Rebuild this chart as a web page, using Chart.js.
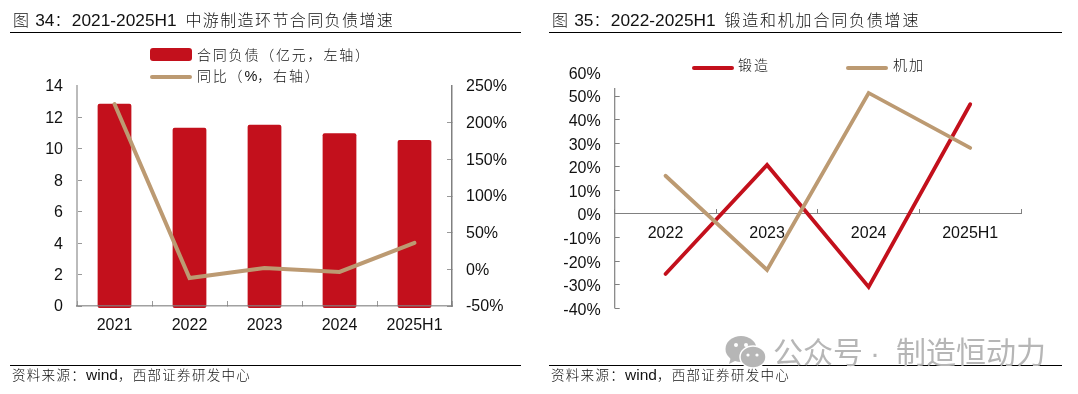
<!DOCTYPE html>
<html><head><meta charset="utf-8">
<script src="https://cdn.jsdelivr.net/npm/chart.js@4"></script>
<style>
html,body{margin:0;padding:0;background:#fff;width:1078px;height:394px;overflow:hidden}
body{position:relative;font-family:"Liberation Sans","Noto Sans CJK SC",sans-serif;color:#111}
canvas{position:absolute;top:0}
.t,.f,.l,.wm{position:absolute;white-space:nowrap}
.t{font-size:17.3px;line-height:20px;top:10px}
.t i,.f i,.l i{font-style:normal;font-weight:300}
.t i{font-size:16px;letter-spacing:1.4px}
.f{font-size:15.5px;line-height:16px;top:367px}
.f i{font-size:13.5px;letter-spacing:1.3px}
.l{font-size:14.5px;line-height:18px}
.l i{font-size:14px;letter-spacing:1.8px}
.r{position:absolute;height:1.5px;background:#000}
.s{position:absolute;border-radius:3px}
.wm{top:333px;font-size:30px;line-height:40px;color:#b6b6b6}
</style></head><body>
<canvas id="c1"></canvas><canvas id="c2" style="left:540px"></canvas>
<div class="t" style="left:13px"><i>图</i> 34<i>：</i>2021-2025H1 <i style="margin-left:4px">中游制造环节合同负债增速</i></div>
<div class="t" style="left:552px"><i>图</i> 35<i>：</i>2022-2025H1 <i style="margin-left:4px;letter-spacing:1.8px">锻造和机加合同负债增速</i></div>
<div class="r" style="left:10px;width:511px;top:31.5px"></div>
<div class="r" style="left:549px;width:513px;top:31.5px"></div>
<div class="r" style="left:10px;width:511px;top:364.5px"></div>
<div class="r" style="left:549px;width:513px;top:364.5px"></div>
<div class="f" style="left:12px"><i>资料来源：</i>wind<i>，西部证券研发中心</i></div>
<div class="f" style="left:551px"><i>资料来源：</i>wind<i>，西部证券研发中心</i></div>
<div class="s" style="left:150px;width:42px;top:48px;height:13px;background:#C3101C"></div>
<div class="l" style="left:197px;top:46px"><i>合同负债（亿元，左轴）</i></div>
<div class="s" style="left:150px;width:42px;top:75px;height:4px;background:#BC9A72"></div>
<div class="l" style="left:197px;top:67px"><i>同比（</i>%<i>，右轴）</i></div>
<div class="s" style="left:692px;width:42px;top:65.5px;height:4px;background:#C3101C"></div>
<div class="l" style="left:738px;top:56px"><i style="letter-spacing:2px">锻造</i></div>
<div class="s" style="left:846px;width:42px;top:65.5px;height:4px;background:#BC9A72"></div>
<div class="l" style="left:893px;top:56px"><i style="letter-spacing:2px">机加</i></div>
<svg style="position:absolute;left:724px;top:335px" width="44" height="36" viewBox="0 0 44 36">
<ellipse cx="17" cy="14" rx="15.5" ry="13" fill="#b6b6b6"/><path d="M7 22l-2 7 8-4z" fill="#b6b6b6"/>
<ellipse cx="29" cy="22" rx="13" ry="11" fill="#b6b6b6" stroke="#fff" stroke-width="1.5"/>
<circle cx="12" cy="10" r="2" fill="#fff"/><circle cx="22" cy="10" r="2" fill="#fff"/>
<circle cx="24" cy="20" r="1.6" fill="#fff"/><circle cx="33" cy="20" r="1.6" fill="#fff"/></svg>
<div class="wm" style="left:773px">公众号</div>
<div class="wm" style="left:870px">·</div>
<div class="wm" style="left:896px">制造恒动力</div>
<script>
const leftCategories = ["2021","2022","2023","2024","2025H1"];
const contractLiabilities = [12.87,11.34,11.53,11.0,10.57];
const yoyPercent = [225.5,-11.8,1.8,-3.6,36];
const leftTicks = [0,2,4,6,8,10,12,14];
const leftPctTicks = [-50,0,50,100,150,200,250];
const rightCategories = ["2022","2023","2024","2025H1"];
const forging = [-25.4,20.8,-30.9,46.5];
const machining = [16.2,-23.7,51.3,28];
const rightTicks = [-40,-30,-20,-10,0,10,20,30,40,50,60];

const RED="#C3101C", TAN="#BC9A72", FONT='"Liberation Sans","Noto Sans CJK SC",sans-serif';
Chart.defaults.font.family=FONT; Chart.defaults.font.size=16; Chart.defaults.color="#111";
Chart.defaults.animation=false; Chart.defaults.responsive=false;
const pct=v=>v+"%";
function setSize(id,w,h){const c=document.getElementById(id);c.width=w;c.height=h;c.style.width=w+"px";c.style.height=h+"px";return c;}
const fixW=w=>s=>{s.width=w;};
const fixH=h=>s=>{s.height=h;};

new Chart(setSize("c1",540,394),{
 data:{labels:leftCategories,datasets:[
  {type:"line",label:"同比（%，右轴）",data:yoyPercent,yAxisID:"y1",borderColor:TAN,borderWidth:4,pointRadius:0,tension:0,borderCapStyle:"round",borderJoinStyle:"miter",order:1,clip:false},
  {type:"bar",label:"合同负债（亿元，左轴）",data:contractLiabilities,yAxisID:"y",backgroundColor:RED,barPercentage:.45,categoryPercentage:1,borderRadius:2,borderSkipped:false,order:2,base:-0.12,clip:false}
 ]},
 options:{layout:{padding:{top:86,bottom:58,left:0,right:0}},plugins:{legend:{display:false},tooltip:{enabled:false}},
  scales:{
   x:{grid:{offset:true,drawOnChartArea:false,tickLength:-5,color:"#999",z:1},border:{color:"rgba(130,130,130,.75)",width:1.5,z:1},ticks:{padding:15,maxRotation:0},afterFit:fixH(30)},
   y:{position:"left",min:0,max:14,afterBuildTicks:s=>{s.ticks=leftTicks.map(value=>({value}));},grid:{drawOnChartArea:false,tickLength:-5,color:c=>c.tick&&c.tick.value===14?"rgba(0,0,0,0)":"#999"},border:{color:"#bbb",width:2},ticks:{padding:19,labelOffset:1},afterFit:fixW(77)},
   y1:{position:"right",min:-50,max:250,afterBuildTicks:s=>{s.ticks=leftPctTicks.map(value=>({value}));},grid:{drawOnChartArea:false,tickLength:-5,color:c=>c.tick&&c.tick.value===250?"rgba(0,0,0,0)":"#999"},border:{color:"#808080",width:1.5},ticks:{padding:19,labelOffset:1,callback:pct},afterFit:fixW(88)}
  }}
});

const partialAxis={id:"partialAxis",beforeDatasetsDraw(chart){const s=chart.scales.y,c=chart.ctx;c.save();c.strokeStyle="#808080";c.lineWidth=1.2;const x=s.right;c.beginPath();c.moveTo(x,s.getPixelForValue(53.4));c.lineTo(x,s.getPixelForValue(-40));c.stroke();c.restore();}};
new Chart(setSize("c2",538,394),{
 type:"line",
 data:{labels:rightCategories,datasets:[
  {label:"锻造",data:forging,borderColor:RED,borderWidth:3.8,pointRadius:0,tension:0,borderCapStyle:"round",borderJoinStyle:"miter",clip:false,order:2},
  {label:"机加",data:machining,borderColor:TAN,borderWidth:3.8,pointRadius:0,tension:0,borderCapStyle:"round",borderJoinStyle:"miter",clip:false,order:1}
 ]},
 plugins:[partialAxis],
 options:{layout:{padding:{top:72.4,bottom:85.6,left:0,right:57}},plugins:{legend:{display:false},tooltip:{enabled:false}},
  scales:{
   x:{offset:true,position:{y:0},grid:{offset:true,drawOnChartArea:false,tickLength:-5,color:"#808080"},border:{color:"#808080"},ticks:{padding:15,maxRotation:0}},
   y:{min:-40,max:60,afterBuildTicks:s=>{s.ticks=rightTicks.map(value=>({value}));},grid:{drawOnChartArea:false,tickLength:-5,color:c=>c.tick&&c.tick.value===60?"rgba(0,0,0,0)":"#808080"},border:{display:false},ticks:{padding:19,labelOffset:2,callback:pct},afterFit:fixW(74.7)}
  }}
});
</script></body></html>
